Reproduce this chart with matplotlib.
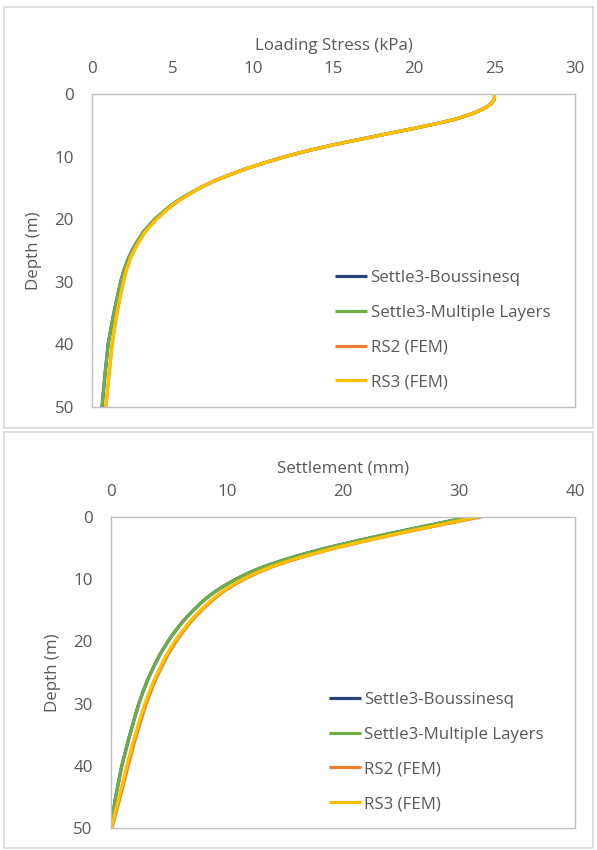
import numpy as np
import matplotlib
matplotlib.use('Agg')
import matplotlib.pyplot as plt
from matplotlib.patches import Rectangle

plt.rcParams['font.family'] = ['Open Sans', 'DejaVu Sans']

depth_stress = [0, 0.5, 1, 1.5, 2, 2.5, 3, 3.5, 4, 4.5, 5, 5.5, 6, 7, 8, 9, 10, 11, 12, 13, 14,
                15, 16, 17, 18, 20, 22, 24, 26, 28, 30, 33, 36, 40, 45, 50]
stress_bous = [25.0, 25.0, 24.95, 24.8, 24.55, 24.2, 23.75, 23.2, 22.6, 21.8, 20.9, 20.0, 19.0,
               17.1, 15.2, 13.5, 12.0, 10.7, 9.5, 8.45, 7.5, 6.7, 6.0, 5.35, 4.8, 3.9, 3.2, 2.7,
               2.3, 2.0, 1.78, 1.52, 1.28, 1.0, 0.8, 0.62]
stress_multi = [25.0, 25.0, 24.95, 24.8, 24.55, 24.2, 23.75, 23.2, 22.6, 21.8, 20.9, 20.0, 19.0,
                17.1, 15.2, 13.5, 12.0, 10.7, 9.5, 8.45, 7.5, 6.7, 6.0, 5.35, 4.8, 3.9, 3.2, 2.7,
                2.3, 2.0, 1.78, 1.52, 1.28, 1.0, 0.8, 0.62]
stress_rs2 = [25.0, 25.0, 24.95, 24.8, 24.55, 24.2, 23.75, 23.2, 22.6, 21.8, 20.9, 20.0, 19.0,
              17.1, 15.2, 13.5, 12.0, 10.7, 9.5, 8.45, 7.5, 6.7, 6.05, 5.42, 4.88, 4.0, 3.3, 2.82,
              2.42, 2.15, 1.95, 1.7, 1.48, 1.25, 1.05, 0.86]
stress_rs3 = [25.0, 25.0, 24.95, 24.8, 24.55, 24.2, 23.75, 23.2, 22.6, 21.8, 20.9, 20.0, 19.0,
              17.1, 15.2, 13.5, 12.0, 10.7, 9.5, 8.45, 7.5, 6.7, 6.05, 5.42, 4.88, 4.0, 3.3, 2.82,
              2.42, 2.15, 1.95, 1.7, 1.48, 1.25, 1.05, 0.86]

depth_settle = [0, 1, 2, 3, 4, 5, 6, 7, 8, 9, 10, 11, 12, 13, 14, 15, 16, 17, 18, 19, 20,
                22, 24, 26, 28, 30, 33, 36, 40, 45, 50]
settle_bous = [31.0, 28.4, 25.8, 23.3, 20.9, 18.6, 16.6, 14.8, 13.2, 11.9, 10.8, 9.85, 9.0, 8.28,
               7.68, 7.12, 6.6, 6.13, 5.7, 5.3, 4.93, 4.27, 3.72, 3.22, 2.8, 2.42, 1.95, 1.5,
               0.95, 0.42, 0.0]
settle_multi = [31.0, 28.4, 25.8, 23.3, 20.9, 18.6, 16.6, 14.8, 13.2, 11.9, 10.8, 9.85, 9.0, 8.28,
                7.68, 7.12, 6.6, 6.13, 5.7, 5.3, 4.93, 4.27, 3.72, 3.22, 2.8, 2.42, 1.95, 1.5,
                0.95, 0.42, 0.0]
settle_rs2 = [32.0, 29.3, 26.62, 24.12, 21.72, 19.42, 17.42, 15.57, 13.97, 12.64, 11.54, 10.57,
              9.72, 9.02, 8.42, 7.84, 7.32, 6.84, 6.42, 6.02, 5.64, 4.97, 4.42, 3.9, 3.47, 3.06,
              2.55, 2.07, 1.5, 0.82, 0.1]
settle_rs3 = [31.7, 29.1, 26.5, 24.0, 21.6, 19.3, 17.3, 15.45, 13.85, 12.52, 11.42, 10.45, 9.6,
              8.9, 8.3, 7.72, 7.2, 6.72, 6.3, 5.9, 5.52, 4.85, 4.3, 3.78, 3.35, 2.94, 2.43, 1.95,
              1.38, 0.72, 0.05]

labels = ['Settle3-Boussinesq', 'Settle3-Multiple Layers', 'RS2 (FEM)', 'RS3 (FEM)']
colors = ['#264478', '#70AD47', '#ED7D31', '#FFC000']

txt = '#595959'
fs = 12.2

fig = plt.figure(figsize=(5.97, 8.5), dpi=100)

# outer chart frames
for (x0, y0, w, h) in [(4, 422, 589, 421), (4, 2, 589, 416)]:
    fig.patches.append(Rectangle((x0 / 597, y0 / 850), w / 597, h / 850, transform=fig.transFigure,
                                 fill=False, edgecolor='#D9D9D9', linewidth=1.2))


def panel(rect, depth, series, xmax, xstep, xlabel, leg_x):
    ax = fig.add_axes(rect)
    for s, lab, c in zip(series, labels, colors):
        ax.plot(s, depth, color=c, linewidth=2.3, label=lab, solid_capstyle='butt')
    ax.set_xlim(0, xmax)
    ax.set_ylim(50, 0)
    ax.set_xticks(np.arange(0, xmax + 1, xstep))
    ax.set_yticks(np.arange(0, 51, 10))
    ax.xaxis.tick_top()
    ax.xaxis.set_label_position('top')
    ax.tick_params(length=0, labelsize=fs, labelcolor=txt)
    ax.tick_params(axis='x', pad=12)
    ax.tick_params(axis='y', pad=13)
    for sp in ax.spines.values():
        sp.set_color('#BFBFBF')
        sp.set_linewidth(1.0)
    ax.set_xlabel(xlabel, fontsize=fs, color=txt, labelpad=8)
    ax.set_ylabel('Depth (m)', fontsize=fs, color=txt, labelpad=9)
    ax.legend(loc='center left', bbox_to_anchor=(leg_x, 0.245), frameon=False, fontsize=fs,
              labelcolor=txt, handlelength=1.9, handletextpad=0.2, labelspacing=1.1,
              borderpad=0, borderaxespad=0)
    return ax


panel([0.1541, 0.5212, 0.809, 0.3682], depth_stress,
      [stress_bous, stress_multi, stress_rs2, stress_rs3], 30, 5, 'Loading Stress (kPa)', 0.503)
panel([0.1854, 0.0253, 0.7777, 0.3668], depth_settle,
      [settle_bous, settle_multi, settle_rs2, settle_rs3], 40, 10, 'Settlement (mm)', 0.470)

fig.savefig('out.png', dpi=100)
